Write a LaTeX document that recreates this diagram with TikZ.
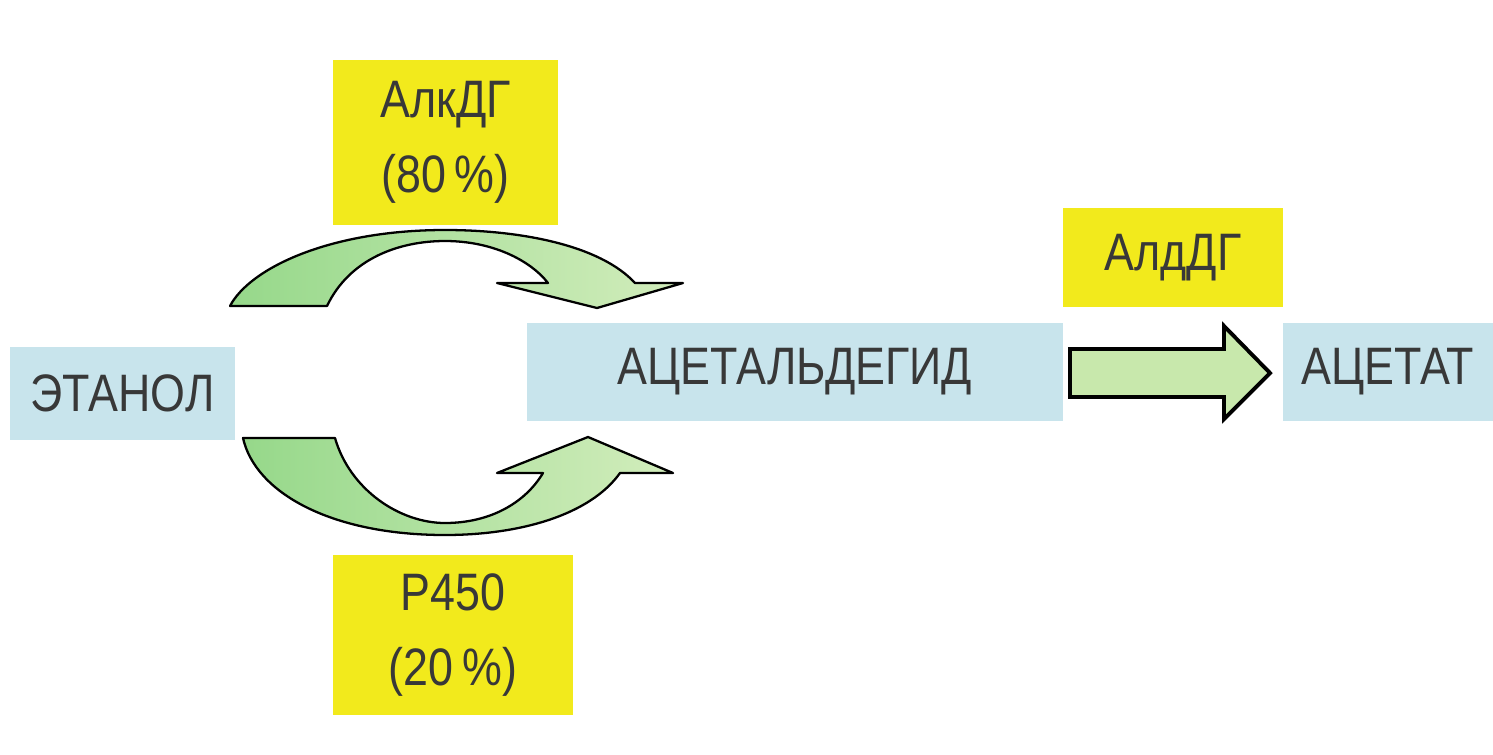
\documentclass[tikz,border=0pt]{standalone}
\usepackage{fontspec}
\newfontfamily\cf[FakeStretch=0.85]{Liberation Sans}
\definecolor{boxblue}{HTML}{C8E4EC}
\definecolor{boxyellow}{HTML}{F2EA1C}
\definecolor{txt}{HTML}{383838}
\definecolor{gdark}{HTML}{96D88A}
\definecolor{glight}{HTML}{D2EDBC}
\definecolor{gbody}{HTML}{C8E8AC}
\begin{document}
\begin{tikzpicture}[x=0.02cm,y=-0.02cm,
  lbl/.style={font=\cf\fontsize{30}{34}\selectfont, text=txt, inner sep=0pt, align=center},
  bluebox/.style={lbl, fill=boxblue},
  yelbox/.style={lbl, fill=boxyellow},
  curvearrow/.style={draw=black, line width=1.3pt, line join=round, left color=gdark, right color=glight},
  blockarrow/.style={draw=black, line width=2.2pt, fill=gbody, line join=miter}]
\useasboundingbox (0,0) rectangle (1493,754);
\fill[white] (0,0) rectangle (1493,754);
% nodes
\node[bluebox, minimum width=225*0.02cm, minimum height=93*0.02cm] (eth) at (122.5,393.5) {ЭТАНОЛ};
\node[bluebox, minimum width=536*0.02cm, minimum height=98*0.02cm] (ald) at (795,372) {АЦЕТАЛЬДЕГИД};
\node[bluebox, minimum width=210*0.02cm, minimum height=98*0.02cm] (act) at (1388,372) {АЦЕТАТ};
\node[yelbox, minimum width=225*0.02cm, minimum height=165*0.02cm] (adh) at (445.5,142.5) {АлкДГ\\[9pt](80\,\%)};
\node[yelbox, minimum width=220*0.02cm, minimum height=99*0.02cm] (aldh) at (1173,257.5) {АлдДГ};
\node[yelbox, minimum width=240*0.02cm, minimum height=160*0.02cm] (p450) at (453,635) {Р450\\[9pt](20\,\%)};
% top curved arrow
\draw[curvearrow] (230,306) -- (327,306)
  .. controls (350,258) and (400,241) .. (445,241)
  .. controls (492,241) and (530,260) .. (548,283)
  -- (497,283) -- (597,308) -- (683,283) -- (635,283)
  .. controls (600,245) and (520,230) .. (445,230)
  .. controls (330,230) and (250,268) .. (230,306) -- cycle;
% bottom curved arrow
\draw[curvearrow] (243,438) -- (335,438)
  .. controls (350,490) and (400,523) .. (445,523)
  .. controls (490,523) and (525,503) .. (543,473)
  -- (497,473) -- (588,437) -- (673,473) -- (620,473)
  .. controls (590,515) and (520,535) .. (445,535)
  .. controls (330,535) and (255,492) .. (243,438) -- cycle;
% block arrow
\draw[blockarrow] (1070,349) -- (1224,349) -- (1224,326) -- (1270,373) -- (1224,419) -- (1224,397) -- (1070,397) -- cycle;
\end{tikzpicture}
\end{document}
